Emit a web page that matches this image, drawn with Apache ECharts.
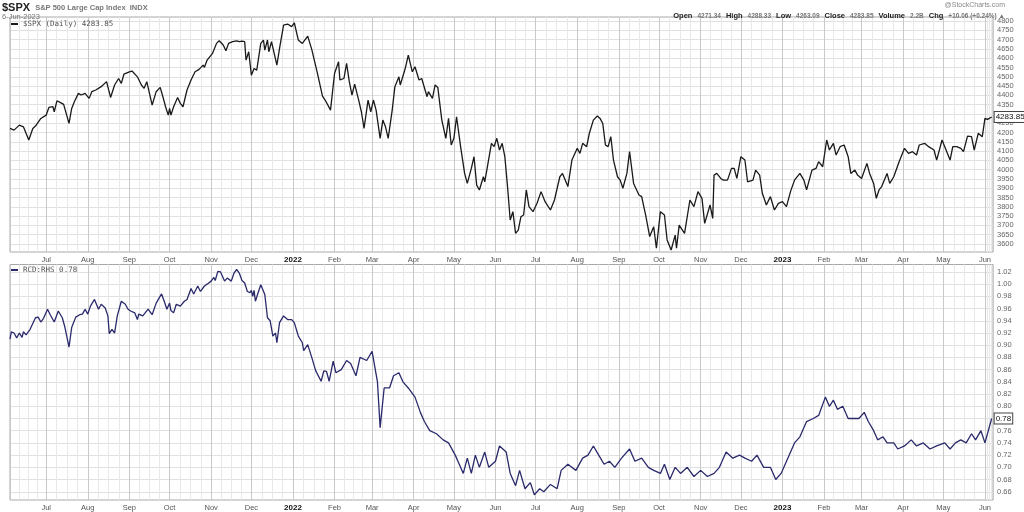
<!DOCTYPE html>
<html><head><meta charset="utf-8">
<script src="https://cdn.jsdelivr.net/npm/echarts@6/dist/echarts.min.js"></script>
<style>html,body{margin:0;padding:0;background:#fff}#c{width:1024px;height:512px}</style>
</head><body><div id="c"></div>
<script>
const spxDates = ['2021-06-04','2021-06-07','2021-06-11','2021-06-14','2021-06-18','2021-06-21','2021-06-23','2021-06-27','2021-07-01','2021-07-03','2021-07-06','2021-07-07','2021-07-09','2021-07-12','2021-07-14','2021-07-18','2021-07-20','2021-07-22','2021-07-25','2021-07-27','2021-07-30','2021-08-02','2021-08-04','2021-08-07','2021-08-11','2021-08-15','2021-08-18','2021-08-21','2021-08-24','2021-08-26','2021-08-28','2021-09-01','2021-09-03','2021-09-07','2021-09-10','2021-09-12','2021-09-14','2021-09-18','2021-09-21','2021-09-24','2021-09-26','2021-09-28','2021-09-30','2021-10-01','2021-10-02','2021-10-04','2021-10-07','2021-10-09','2021-10-11','2021-10-14','2021-10-17','2021-10-20','2021-10-23','2021-10-26','2021-10-27','2021-10-29','2021-11-02','2021-11-05','2021-11-07','2021-11-10','2021-11-12','2021-11-14','2021-11-17','2021-11-20','2021-11-22','2021-11-24','2021-11-26','2021-11-27','2021-11-29','2021-12-01','2021-12-03','2021-12-05','2021-12-08','2021-12-10','2021-12-11','2021-12-13','2021-12-14','2021-12-16','2021-12-20','2021-12-22','2021-12-25','2021-12-28','2021-12-31','2022-01-02','2022-01-05','2022-01-08','2022-01-12','2022-01-15','2022-01-19','2022-01-23','2022-01-25','2022-01-29','2022-02-01','2022-02-04','2022-02-05','2022-02-08','2022-02-10','2022-02-12','2022-02-14','2022-02-16','2022-02-19','2022-02-21','2022-02-23','2022-02-26','2022-02-28','2022-03-02','2022-03-04','2022-03-07','2022-03-09','2022-03-11','2022-03-13','2022-03-16','2022-03-18','2022-03-21','2022-03-22','2022-03-25','2022-03-26','2022-03-28','2022-03-31','2022-04-02','2022-04-05','2022-04-07','2022-04-11','2022-04-12','2022-04-15','2022-04-17','2022-04-19','2022-04-22','2022-04-25','2022-04-27','2022-04-29','2022-05-01','2022-05-03','2022-05-06','2022-05-09','2022-05-11','2022-05-14','2022-05-16','2022-05-18','2022-05-20','2022-05-23','2022-05-24','2022-05-26','2022-05-29','2022-05-31','2022-06-02','2022-06-04','2022-06-06','2022-06-08','2022-06-10','2022-06-12','2022-06-14','2022-06-16','2022-06-18','2022-06-20','2022-06-22','2022-06-24','2022-06-26','2022-06-29','2022-07-02','2022-07-05','2022-07-08','2022-07-12','2022-07-15','2022-07-19','2022-07-21','2022-07-25','2022-07-28','2022-08-01','2022-08-03','2022-08-05','2022-08-08','2022-08-10','2022-08-13','2022-08-16','2022-08-18','2022-08-20','2022-08-22','2022-08-24','2022-08-26','2022-08-28','2022-08-31','2022-09-02','2022-09-04','2022-09-07','2022-09-09','2022-09-12','2022-09-13','2022-09-16','2022-09-18','2022-09-21','2022-09-24','2022-09-27','2022-09-29','2022-10-02','2022-10-05','2022-10-07','2022-10-10','2022-10-13','2022-10-14','2022-10-16','2022-10-20','2022-10-24','2022-10-27','2022-10-30','2022-11-02','2022-11-04','2022-11-08','2022-11-10','2022-11-11','2022-11-13','2022-11-16','2022-11-18','2022-11-21','2022-11-24','2022-11-26','2022-11-28','2022-12-01','2022-12-04','2022-12-06','2022-12-10','2022-12-12','2022-12-15','2022-12-17','2022-12-20','2022-12-23','2022-12-26','2022-12-29','2023-01-01','2023-01-04','2023-01-07','2023-01-10','2023-01-14','2023-01-17','2023-01-19','2023-01-23','2023-01-26','2023-01-28','2023-01-31','2023-02-03','2023-02-05','2023-02-08','2023-02-10','2023-02-13','2023-02-16','2023-02-19','2023-02-21','2023-02-24','2023-02-26','2023-03-01','2023-03-05','2023-03-07','2023-03-10','2023-03-12','2023-03-14','2023-03-16','2023-03-18','2023-03-20','2023-03-22','2023-03-25','2023-03-29','2023-04-02','2023-04-05','2023-04-08','2023-04-11','2023-04-13','2023-04-17','2023-04-20','2023-04-24','2023-04-26','2023-04-30','2023-05-03','2023-05-06','2023-05-08','2023-05-11','2023-05-14','2023-05-16','2023-05-19','2023-05-22','2023-05-24','2023-05-27','2023-05-30','2023-06-01','2023-06-03','2023-06-06'];
const spxValues = [4222,4213,4240,4231,4160,4222,4235,4276,4294,4335,4339,4312,4371,4360,4352,4249,4330,4366,4411,4402,4411,4384,4420,4429,4447,4474,4389,4456,4491,4465,4515,4527,4531,4500,4456,4438,4474,4348,4420,4443,4393,4339,4294,4330,4294,4339,4389,4357,4339,4429,4483,4527,4540,4563,4551,4590,4626,4680,4694,4671,4640,4680,4689,4694,4689,4692,4689,4590,4635,4509,4545,4536,4680,4698,4644,4698,4635,4689,4563,4653,4778,4784,4770,4791,4698,4680,4719,4648,4527,4396,4375,4321,4518,4581,4483,4491,4572,4474,4402,4461,4375,4312,4222,4375,4312,4375,4321,4169,4267,4231,4169,4321,4447,4500,4456,4527,4554,4617,4527,4554,4483,4491,4393,4420,4384,4456,4443,4267,4169,4276,4133,4169,4285,4124,3980,3926,4007,4070,3917,3891,3962,3935,4016,4142,4124,4169,4106,4142,4070,3909,3729,3774,3657,3675,3747,3756,3891,3801,3774,3819,3882,3828,3783,3837,3962,3980,3909,4052,4115,4088,4142,4124,4196,4267,4289,4276,4249,4133,4124,4178,4052,3962,3944,3900,3980,4097,3926,3935,3864,3855,3756,3640,3693,3577,3774,3756,3622,3568,3648,3577,3702,3657,3837,3801,3882,3846,3711,3810,3738,3971,3980,3953,3944,3944,4007,4007,3953,4070,4052,3935,3944,3998,3971,3873,3810,3855,3783,3819,3828,3801,3882,3944,3980,3944,3891,3998,4007,4043,4016,4160,4106,4142,4079,4124,4133,4070,3980,3998,3971,3953,4034,3980,3926,3846,3891,3909,3944,3980,3926,3962,4043,4115,4088,4097,4079,4133,4142,4124,4106,4052,4160,4106,4052,4124,4124,4115,4097,4181,4178,4106,4196,4178,4276,4271,4283.85];

const rcdDates = ['2021-06-04','2021-06-05','2021-06-07','2021-06-09','2021-06-11','2021-06-13','2021-06-14','2021-06-16','2021-06-19','2021-06-23','2021-06-25','2021-06-27','2021-06-29','2021-07-02','2021-07-04','2021-07-07','2021-07-10','2021-07-13','2021-07-15','2021-07-18','2021-07-20','2021-07-23','2021-07-26','2021-07-28','2021-07-30','2021-08-01','2021-08-03','2021-08-06','2021-08-09','2021-08-11','2021-08-14','2021-08-16','2021-08-17','2021-08-19','2021-08-21','2021-08-23','2021-08-26','2021-08-29','2021-08-31','2021-09-02','2021-09-05','2021-09-07','2021-09-08','2021-09-11','2021-09-15','2021-09-18','2021-09-21','2021-09-25','2021-09-27','2021-09-29','2021-10-01','2021-10-02','2021-10-04','2021-10-06','2021-10-09','2021-10-12','2021-10-14','2021-10-17','2021-10-19','2021-10-22','2021-10-24','2021-10-27','2021-10-29','2021-11-01','2021-11-03','2021-11-04','2021-11-06','2021-11-08','2021-11-11','2021-11-13','2021-11-16','2021-11-18','2021-11-20','2021-11-22','2021-11-24','2021-11-26','2021-11-28','2021-11-30','2021-12-01','2021-12-02','2021-12-03','2021-12-04','2021-12-06','2021-12-08','2021-12-11','2021-12-13','2021-12-15','2021-12-17','2021-12-19','2021-12-20','2021-12-22','2021-12-25','2021-12-28','2021-12-31','2022-01-02','2022-01-05','2022-01-08','2022-01-09','2022-01-12','2022-01-15','2022-01-18','2022-01-22','2022-01-24','2022-01-26','2022-01-28','2022-01-31','2022-02-02','2022-02-06','2022-02-10','2022-02-13','2022-02-17','2022-02-20','2022-02-25','2022-03-01','2022-03-05','2022-03-07','2022-03-10','2022-03-14','2022-03-17','2022-03-21','2022-03-24','2022-03-28','2022-04-02','2022-04-06','2022-04-09','2022-04-13','2022-04-18','2022-04-23','2022-04-27','2022-05-02','2022-05-05','2022-05-08','2022-05-11','2022-05-14','2022-05-17','2022-05-20','2022-05-24','2022-05-27','2022-06-01','2022-06-04','2022-06-09','2022-06-12','2022-06-16','2022-06-19','2022-06-23','2022-06-27','2022-06-30','2022-07-04','2022-07-07','2022-07-12','2022-07-17','2022-07-20','2022-07-25','2022-07-31','2022-08-05','2022-08-09','2022-08-13','2022-08-17','2022-08-21','2022-08-25','2022-08-29','2022-09-03','2022-09-09','2022-09-13','2022-09-18','2022-09-23','2022-09-27','2022-10-02','2022-10-05','2022-10-09','2022-10-13','2022-10-17','2022-10-22','2022-10-27','2022-11-01','2022-11-06','2022-11-11','2022-11-15','2022-11-20','2022-11-25','2022-11-30','2022-12-04','2022-12-09','2022-12-13','2022-12-18','2022-12-23','2022-12-27','2022-12-31','2023-01-05','2023-01-10','2023-01-14','2023-01-19','2023-01-24','2023-01-28','2023-02-02','2023-02-05','2023-02-08','2023-02-11','2023-02-15','2023-02-19','2023-02-23','2023-02-27','2023-03-03','2023-03-06','2023-03-10','2023-03-13','2023-03-17','2023-03-20','2023-03-25','2023-03-28','2023-04-02','2023-04-07','2023-04-11','2023-04-16','2023-04-21','2023-04-26','2023-05-02','2023-05-06','2023-05-10','2023-05-14','2023-05-18','2023-05-22','2023-05-25','2023-05-29','2023-06-01','2023-06-06'];
const rcdValues = [0.910,0.922,0.920,0.912,0.920,0.913,0.922,0.917,0.926,0.945,0.946,0.938,0.944,0.959,0.950,0.938,0.956,0.945,0.929,0.897,0.929,0.946,0.950,0.951,0.959,0.951,0.964,0.975,0.959,0.967,0.961,0.948,0.919,0.926,0.920,0.948,0.972,0.967,0.959,0.956,0.953,0.942,0.951,0.948,0.959,0.950,0.969,0.984,0.972,0.959,0.969,0.957,0.953,0.967,0.964,0.972,0.975,0.993,0.984,0.997,0.988,0.997,1.000,1.005,1.011,1.006,1.021,1.020,1.005,1.010,1.005,1.018,1.024,1.018,1.006,1.002,0.988,0.986,0.990,0.980,0.990,0.972,0.986,0.999,0.983,0.945,0.940,0.915,0.920,0.904,0.937,0.948,0.942,0.942,0.937,0.915,0.904,0.891,0.901,0.880,0.858,0.841,0.858,0.857,0.841,0.874,0.855,0.860,0.875,0.870,0.850,0.880,0.875,0.890,0.840,0.765,0.830,0.830,0.850,0.855,0.840,0.830,0.815,0.790,0.775,0.760,0.755,0.745,0.740,0.720,0.705,0.690,0.715,0.690,0.720,0.700,0.725,0.700,0.710,0.735,0.725,0.690,0.670,0.695,0.665,0.675,0.655,0.665,0.660,0.672,0.665,0.695,0.705,0.695,0.715,0.720,0.735,0.720,0.705,0.710,0.700,0.715,0.730,0.710,0.715,0.700,0.695,0.690,0.705,0.680,0.700,0.690,0.700,0.685,0.695,0.685,0.690,0.700,0.725,0.715,0.720,0.715,0.710,0.720,0.700,0.700,0.680,0.690,0.715,0.740,0.750,0.775,0.780,0.785,0.815,0.800,0.810,0.795,0.800,0.780,0.780,0.780,0.790,0.775,0.760,0.745,0.750,0.740,0.740,0.730,0.735,0.745,0.735,0.740,0.730,0.735,0.740,0.730,0.740,0.745,0.740,0.755,0.745,0.760,0.740,0.780];

const spxTicks = [3600,3650,3700,3750,3800,3850,3900,3950,4000,4050,4100,4150,4200,4250,4300,4350,4400,4450,4500,4550,4600,4650,4700,4750,4800];
const rcdTicks = [0.66,0.68,0.70,0.72,0.74,0.76,0.78,0.80,0.82,0.84,0.86,0.88,0.90,0.92,0.94,0.96,0.98,1.00,1.02];
const headerQuote = [['Open','4271.34'],['High','4288.33'],['Low','4263.09'],['Close','4283.85'],['Volume','2.2B'],['Chg','+10.06 (+0.24%) \u25B2']];

const FONT = 'Liberation Sans, Arial, sans-serif';
const chart = echarts.init(document.getElementById('c'), null, {renderer: 'canvas'});

function xAxisFor(gridIndex) {
  return {
    type: 'time', gridIndex: gridIndex,
    min: '2021-06-04', max: '2023-06-07',
    splitNumber: 24, minInterval: 28 * 86400000, maxInterval: 31 * 86400000,
    axisLine: {show: false}, axisTick: {show: false},
    axisLabel: {
      show: true, fontSize: 7.5, color: '#555', fontFamily: FONT, margin: 4, hideOverlap: false,
      formatter: {year: '{yr|{yyyy}}', month: '{MMM}', day: '{MMM}'},
      rich: {yr: {fontWeight: 'bold', color: '#111', fontSize: 8, fontFamily: FONT}}
    },
    splitLine: {show: true, lineStyle: {color: '#c9c9c9', width: 1}},
    minorTick: {show: false, splitNumber: 4},
    minorSplitLine: {show: true, lineStyle: {color: '#e8e8e8', width: 1}}
  };
}

const lastSpx = spxValues[spxValues.length - 1];
const lastRcd = rcdValues[rcdValues.length - 1];

chart.setOption({
  animation: false,
  backgroundColor: '#fff',
  title: [
    {left: 2, top: -1, padding: 0, text: '{a|$SPX} {b|S&P 500 Large Cap Index  INDX}',
     textStyle: {rich: {a: {fontSize: 11, fontWeight: 'bold', color: '#222', fontFamily: FONT, lineHeight: 12}, b: {fontSize: 7.5, color: '#777', fontFamily: FONT, lineHeight: 12}}}},
    {left: 2, top: 12, padding: 0, text: '6-Jun-2023', textStyle: {fontSize: 7.5, color: '#777', fontWeight: 'normal', fontFamily: FONT, lineHeight: 9}},
    {right: 19, top: 1, padding: 0, text: '@StockCharts.com', textStyle: {fontSize: 7, color: '#888', fontWeight: 'normal', fontFamily: FONT, lineHeight: 8}},
    {right: 19, top: 7, padding: 0, text: headerQuote.map(p => '{k|' + p[0] + '} {v|' + p[1] + '}').join(' '),
     textStyle: {rich: {k: {fontSize: 7.5, fontWeight: 'bold', color: '#222', fontFamily: FONT, lineHeight: 9}, v: {fontSize: 6.5, color: '#777', fontFamily: FONT, lineHeight: 9}}}}
  ],
  legend: [
    {left: 11, top: 20, padding: 0, data: ['$SPX (Daily)'], icon: 'rect', itemWidth: 7, itemHeight: 2, itemGap: 3,
     textStyle: {fontSize: 7.5, color: '#555', fontFamily: 'DejaVu Sans Mono, monospace'},
     formatter: n => n + ' ' + lastSpx.toFixed(2)},
    {left: 11, top: 266, padding: 0, data: ['RCD:RHS'], icon: 'rect', itemWidth: 7, itemHeight: 2, itemGap: 3,
     textStyle: {fontSize: 7.5, color: '#555', fontFamily: 'DejaVu Sans Mono, monospace'},
     formatter: n => n + ' ' + lastRcd.toFixed(2)}
  ],
  grid: [
    {left: 10, right: 31, top: 17, height: 235, show: true, borderColor: '#a8a8a8', borderWidth: 1, backgroundColor: 'transparent'},
    {left: 10, right: 31, top: 264.5, height: 236.5, show: true, borderColor: '#a8a8a8', borderWidth: 1, backgroundColor: 'transparent'}
  ],
  xAxis: [xAxisFor(0), xAxisFor(1)],
  yAxis: [
    {type: 'value', gridIndex: 0, position: 'right', min: 3557, max: 4822,
     axisLine: {show: false}, axisTick: {show: false, customValues: spxTicks},
     axisLabel: {customValues: spxTicks, fontSize: 7.5, color: '#666', fontFamily: FONT, margin: 4, formatter: v => String(v)},
     splitLine: {show: true, lineStyle: {color: '#e0e0e0', width: 1}}},
    {type: 'value', gridIndex: 1, position: 'right', min: 0.6465, max: 1.0322,
     axisLine: {show: false}, axisTick: {show: false, customValues: rcdTicks},
     axisLabel: {customValues: rcdTicks, fontSize: 7.5, color: '#666', fontFamily: FONT, margin: 4, formatter: v => v.toFixed(2)},
     splitLine: {show: true, lineStyle: {color: '#e0e0e0', width: 1}}}
  ],
  series: [
    {name: '$SPX (Daily)', type: 'line', xAxisIndex: 0, yAxisIndex: 0, showSymbol: false, symbol: 'none',
     data: spxDates.map((d, i) => [d, spxValues[i]]),
     lineStyle: {color: '#1a1a1a', width: 1.3}, itemStyle: {color: '#1a1a1a'},
     endLabel: {show: true, distance: 3, formatter: p => p.value[1].toFixed(2), fontSize: 8, color: '#111', fontFamily: FONT,
       backgroundColor: '#fff', borderColor: '#444', borderWidth: 1, padding: [1, 1]}},
    {name: 'RCD:RHS', type: 'line', xAxisIndex: 1, yAxisIndex: 1, showSymbol: false, symbol: 'none',
     data: rcdDates.map((d, i) => [d, rcdValues[i]]),
     lineStyle: {color: '#2a2a6c', width: 1.3}, itemStyle: {color: '#2a2a6c'},
     endLabel: {show: true, distance: 3, formatter: p => p.value[1].toFixed(2), fontSize: 8, color: '#111', fontFamily: FONT,
       backgroundColor: '#fff', borderColor: '#444', borderWidth: 1, padding: [1, 1]}}
  ]
});
</script></body></html>
